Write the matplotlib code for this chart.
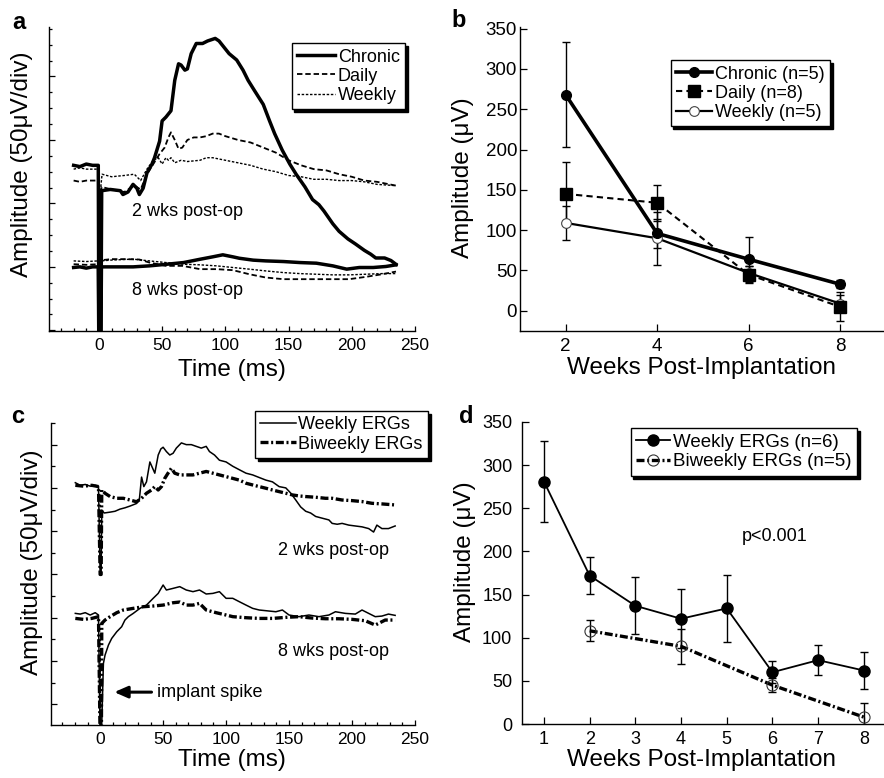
import matplotlib
matplotlib.use('Agg')
from matplotlib import pyplot as plt
from matplotlib.lines import Line2D
from matplotlib.ticker import MultipleLocator, NullFormatter

plt.rcParams['font.family'] = ['Liberation Sans', 'DejaVu Sans']

# ---- panel a: ERG traces, time in ms, amplitude in uV (8 wk baseline = 0) ----
a_chronic2_t = [-20, -15, -10, -5, -0.5, 0, 1.5, 2.2, 9, 17, 19, 23, 27, 30, 32, 35, 38, 42, 44, 48,
                50, 53, 57, 60, 63, 65, 68, 70, 73, 77, 82, 86, 92, 95, 99, 103, 109, 114, 118, 123,
                130, 135, 139, 145, 151, 156, 163, 169, 174, 178, 185, 190, 197, 203, 210, 215, 219,
                226, 231, 235]
a_chronic2_v = [80, 79, 81, 80, 80, -70, -70, 60, 61, 60, 57, 59, 65, 62, 57, 62, 74, 81, 86, 99,
                115, 118, 123, 147, 160, 159, 155, 156, 168, 176, 176, 178, 180, 178, 173, 168, 163, 155, 147, 139,
                128, 115, 105, 92, 81, 73, 63, 53, 49, 44, 34, 28, 22, 18, 13, 10, 7,
                7, 5, 2]
a_daily2_t = [-20, -15, -10, -5, -0.5, 0, 1.5, 2, 10, 20, 28, 33, 38, 43, 48, 52, 55, 57, 60, 63, 66,
              70, 75, 80, 85, 90, 95, 100, 110, 120, 130, 140, 150, 160, 170, 180, 190, 200, 210, 220,
              230, 235]
a_daily2_v = [68, 67, 68, 68, 68, -70, -70, 63, 61, 59, 64, 61, 73, 81, 89, 94, 102, 106, 100, 93, 94,
              100, 102, 102, 103, 105, 105, 103, 100, 98, 94, 90, 84, 80, 77, 76, 73, 71, 68, 67,
              65, 64]
a_weekly2_t = [-20, -15, -10, -5, -0.5, 0.5, 1.5, 2.5, 10, 20, 28, 33, 38, 43, 47, 50, 53, 55, 57, 60,
               65, 70, 80, 85, 90, 100, 110, 120, 130, 140, 150, 160, 170, 180, 190, 200, 210, 220, 235]
a_weekly2_v = [77, 78, 77, 77, 77, 52, 63, 73, 71, 72, 73, 68, 77, 84, 86, 81, 86, 84, 86, 82,
               84, 83, 84, 86, 86, 84, 82, 80, 77, 75, 72, 71, 69, 69, 68, 68, 67, 65, 64]
a_chronic8_t = [-20, -15, -10, -5, -0.5, 0, 1.5, 2, 14, 27, 40, 53, 67, 80, 90, 98, 106, 111, 122, 132,
                146, 159, 172, 185, 196, 206, 217, 227, 235]
a_chronic8_v = [-0.5, 0, -1, 0, 0, -70, -70, 0, 0, 0, 0.8, 2, 3.4, 6, 7.9, 9.5, 7.9, 6.8, 5.3, 4.7,
                4.2, 3.4, 2.9, 0.8, -1.8, -0.5, -0.5, 0.3, 1.6]
a_daily8_t = [-20, -10, -0.5, 0, 1.5, 2, 10, 20, 32, 40, 53, 66, 80, 93, 106, 119, 132, 146, 159, 172,
              185, 198, 211, 224, 235]
a_daily8_v = [2.1, 1.6, 2.1, -70, -70, 5.3, 6.1, 6.1, 5.8, 3.4, 0.8, 0.8, -1.8, -1.8, -2.6, -5.8, -8.4, -9.7, -9.7, -9.7,
              -9.7, -9.7, -7.9, -5.8, -3.7]
a_weekly8_t = [-20, -10, -0.5, 0, 1.5, 2, 9, 27, 40, 53, 67, 80, 93, 106, 119, 132, 146, 159, 172, 185,
               198, 211, 224, 235]
a_weekly8_v = [4.7, 4.2, 4.7, -70, -70, 4.7, 5.3, 6.1, 4.7, 3.4, 2.1, 1.6, 0.8, -0.5, -1.8, -3.2, -4.5, -5.3, -5.8, -6.3,
               -6.3, -5.8, -5.3, -5.3]

# ---- panel b: mean amplitude by group ----
b_weeks = [2, 4, 6, 8]
b_chronic = [268, 96, 64, 33]
b_chronic_err = [65, 18, 28, 5]
b_daily = [145, 134, 45, 5]
b_daily_err = [39, 22, 10, 18]
b_weekly = [109, 90, 47, 9]
b_weekly_err = [21, 33, 8, 10]

# ---- panel c: weekly vs biweekly ERG traces ----
c_weekly2_t = [-19.7, -15.8, -11.8, -7.9, -3.9, -1.3, 0, 0.8, 1.3, 3.2, 7.9, 11.8, 15.8, 19.7, 23.7, 26.3,
               28.9, 31.1, 32.9, 34.7, 36.8, 39.5, 41.6, 43.4, 46.1, 48.2, 50, 52.6, 55.3, 57.9, 60.5,
               64.5, 68.4, 72.4, 76.3, 80.3, 84.2, 86.8, 90.8, 94.7, 100, 105.3, 110.5, 115.8, 121.1,
               126.3, 131.6, 136.8, 142.1, 147.4, 151.3, 155.3, 159.2, 163.2, 167.1, 171.1, 176.3,
               181.6, 184.2, 188.2, 192.1, 197.4, 202.6, 207.9, 213.2, 217.1, 219.7, 223.7, 228.9, 234.2]
c_weekly2_v = [156, 153, 154, 152, 153, 152, 50, 50, 124.5, 121, 122, 123, 125.5, 127, 129, 130.5,
               132, 136, 162.5, 151.5, 157, 180, 173, 167, 188, 195, 197, 192, 188, 190, 196,
               202, 200, 200, 198, 196, 198, 192, 188, 182, 180, 175, 171, 167, 165,
               162, 159, 157, 151.5, 150, 144, 136, 128, 123, 121, 117, 115,
               113, 109, 108, 109, 107, 106, 105, 103, 99, 107, 103, 103, 106]
c_biweekly2_t = [-19.7, -13.2, -6.6, -1.3, 0, 0.8, 1.3, 3.9, 7.9, 13.2, 18.4, 23.7, 28.9, 32.9, 36.8, 40.8,
                 43.4, 46.1, 48.7, 51.3, 53.9, 56.6, 59.2, 63.2, 68.4, 73.7, 78.9, 84.2, 89.5, 94.7,
                 100, 105.3, 110.5, 115.8, 121.1, 126.3, 131.6, 136.8, 142.1, 147.4, 152.6, 157.9,
                 163.2, 171.1, 178.9, 184.2, 192.1, 200, 207.9, 215.8, 223.7, 234.2]
c_biweekly2_v = [153, 152, 153, 151.5, 50, 50, 147.6, 143.8, 140, 138, 138, 136, 134, 138, 143.8, 147.6,
                 151.5, 147.6, 151.5, 161, 167, 172.7, 167, 165, 165, 165, 167, 169, 167, 165,
                 163, 161, 159, 155.4, 153.4, 151.5, 149.6, 147.6, 145.7, 143.8, 141.9, 140.7,
                 140, 139.2, 138, 138, 136, 135.3, 134.2, 132.2, 131.5, 130.3]
c_weekly8_t = [-19.7, -15.8, -11.8, -7.9, -3.9, -1.3, 0, 0.8, 1.3, 2.6, 3.9, 6.6, 9.2, 13.2, 17.1, 19.7,
               22.4, 26.3, 31.6, 36.8, 42.1, 46.1, 50, 52.6, 57.9, 63.2, 68.4, 73.7, 78.9, 84.2,
               89.5, 94.7, 100, 105.3, 110.5, 115.8, 121.1, 126.3, 131.6, 139.5, 144.7, 150, 157.9,
               165.8, 173.7, 181.6, 186.8, 194.7, 202.6, 207.9, 213.2, 218.4, 223.7, 228.9, 234.2]
c_weekly8_v = [5, 4.2, 5.8, 3.1, 5.8, 3.1, -140, -140, -122, -52.8, -43.2, -31.6, -23.9, -16.2, -10.4, -2.7,
               1.2, 5, 10.8, 14.6, 22.4, 28.1, 37.8, 32, 33.9, 35.9, 32, 30.1, 32, 27.4,
               28.1, 30.1, 22.4, 22.4, 18.5, 14.6, 10.8, 8.9, 8.1, 6.9, 8.9, 3.1, 1.2,
               3.1, 1.2, 3.1, 6.9, 5, 4.2, 8.9, 5, 1.2, 1.9, 4.2, 2.7]
c_biweekly8_t = [-19.7, -13.2, -6.6, -1.3, 0, 1, 1.3, 3.9, 7.9, 13.2, 18.4, 26.3, 34.2, 42.1, 50, 57.9,
                 63.2, 68.4, 73.7, 78.9, 84.2, 92.1, 100, 105.3, 115.8, 126.3, 136.8, 147.4, 157.9,
                 168.4, 178.9, 189.5, 200, 210.5, 218.4, 226.3, 234.2]
c_biweekly8_v = [-0.8, -1.9, -0.8, 1.2, -140, -140, -6.6, -2.7, 1.2, 5.8, 8.9, 10.8, 12.7, 13.5, 14.6, 17.3,
                 18.1, 14.6, 14.6, 16.6, 8.9, 5.8, 3.1, 1.2, 0, -0.8, -0.8, 0.4, 1.2,
                 -0.4, -1.2, -1.2, -1.9, -3.5, -8.5, -2.7, -2.7]

# ---- panel d: weekly vs biweekly amplitude ----
d_weekly_x = [1, 2, 3, 4, 5, 6, 7, 8]
d_weekly = [281, 172, 137, 122, 134, 60, 74, 62]
d_weekly_err = [47, 21, 33, 34, 39, 13, 17, 21]
d_biweekly_x = [2, 4, 6, 8]
d_biweekly = [108, 90, 45, 8]
d_biweekly_err = [12, 20, 8, 16]

LABEL_FS = 17.5
LEG_FS = 13
DASHDOT = (0, (2.4, 0.8, 0.6, 0.8))


def base_axes(ax, tick_fs):
    for s in ['top', 'right']:
        ax.spines[s].set_visible(False)
    for s in ['left', 'bottom']:
        ax.spines[s].set_linewidth(1.0)
    ax.tick_params(which='both', direction='in', labelsize=tick_fs, width=0.9)


def boxed_legend(ax, handles, labels, anchor, fs=LEG_FS, **kw):
    leg = ax.legend(handles, labels, loc='upper right', bbox_to_anchor=anchor,
                    bbox_transform=ax.transAxes, borderaxespad=0, fancybox=False,
                    shadow={'color': 'black', 'alpha': 1}, framealpha=1, edgecolor='black',
                    fontsize=fs, handletextpad=0.15, labelspacing=0.12, borderpad=0.3,
                    numpoints=1, **kw)
    leg.get_frame().set_linewidth(1.0)
    return leg


def main():
    fig = plt.figure(figsize=(8.84, 7.78), dpi=100)

    # ---------------- a ----------------
    ax = fig.add_axes([0.0554, 0.5746, 0.414, 0.3907])
    base_axes(ax, 12.5)
    ax.plot(a_chronic2_t, a_chronic2_v, color='k', lw=2.5)
    ax.plot(a_daily2_t, a_daily2_v, color='k', lw=1.3, ls=(0, (3, 1.6)))
    ax.plot(a_weekly2_t, a_weekly2_v, color='k', lw=1.0, ls=(0, (1.8, 1.2)))
    ax.plot(a_chronic8_t, a_chronic8_v, color='k', lw=2.5)
    ax.plot(a_daily8_t, a_daily8_v, color='k', lw=1.3, ls=(0, (3, 1.6)))
    ax.plot(a_weekly8_t, a_weekly8_v, color='k', lw=1.0, ls=(0, (1.8, 1.2)))
    ax.set_xlim(-39.5, 250)
    ax.set_ylim(-50.5, 189)
    ax.xaxis.set_major_locator(MultipleLocator(50))
    ax.xaxis.set_minor_locator(MultipleLocator(10))
    ax.yaxis.set_major_locator(MultipleLocator(50))
    ax.yaxis.set_minor_locator(MultipleLocator(12.5))
    ax.yaxis.set_major_formatter(NullFormatter())
    ax.tick_params(axis='x', which='major', length=3.5, pad=5)
    ax.tick_params(axis='x', which='minor', length=2.5)
    ax.tick_params(axis='y', which='major', length=4)
    ax.tick_params(axis='y', which='minor', length=2.5)
    ax.text(26, 44, '2 wks post-op', fontsize=13, va='center', ha='left')
    ax.text(26, -19, '8 wks post-op', fontsize=13, va='center', ha='left')
    ax.set_xlabel('Time (ms)', fontsize=LABEL_FS, va='center')
    ax.xaxis.set_label_coords(0.5, -0.128)
    ax.set_ylabel('Amplitude (50μV/div)', fontsize=LABEL_FS, va='center')
    ax.yaxis.set_label_coords(-0.074, 0.55)
    h = [Line2D([], [], color='k', lw=2.5),
         Line2D([], [], color='k', lw=1.3, ls=(0, (3, 1.6))),
         Line2D([], [], color='k', lw=1.0, ls=(0, (1.8, 1.2)))]
    boxed_legend(ax, h, ['Chronic', 'Daily', 'Weekly'], (0.973, 0.947), handlelength=2.1)

    # ---------------- b ----------------
    ax = fig.add_axes([0.5882, 0.5746, 0.4106, 0.3907])
    base_axes(ax, 13.5)
    ekw = dict(fmt='none', ecolor='k', elinewidth=1.0, capsize=3.2, capthick=1.0)
    ax.errorbar(b_weeks, b_chronic, yerr=b_chronic_err, **ekw)
    ax.errorbar(b_weeks, b_daily, yerr=b_daily_err, **ekw)
    ax.errorbar(b_weeks, b_weekly, yerr=b_weekly_err, **ekw)
    ax.plot(b_weeks, b_weekly, color='k', lw=1.6, marker='o', ms=7, mfc='white', mec='#444', mew=0.8)
    ax.plot(b_weeks, b_daily, color='k', lw=1.5, ls=(0, (3, 2)), marker='s', ms=8)
    ax.plot(b_weeks, b_chronic, color='k', lw=2.6, marker='o', ms=7)
    ax.set_xlim(1, 8.94)
    ax.set_ylim(-25, 352)
    ax.set_xticks(b_weeks)
    ax.yaxis.set_major_locator(MultipleLocator(50))
    ax.tick_params(axis='x', length=5, pad=5)
    ax.tick_params(axis='y', length=5, pad=2)
    ax.set_xlabel('Weeks Post-Implantation', fontsize=LABEL_FS, va='center')
    ax.xaxis.set_label_coords(0.5, -0.122)
    ax.set_ylabel('Amplitude (μV)', fontsize=LABEL_FS, va='center')
    ax.yaxis.set_label_coords(-0.157, 0.503)
    h = [Line2D([], [], color='k', lw=2.6, marker='o', ms=7),
         Line2D([], [], color='k', lw=1.5, ls=(0, (3, 2)), marker='s', ms=8),
         Line2D([], [], color='k', lw=1.6, marker='o', ms=7, mfc='white', mec='#444', mew=0.8)]
    boxed_legend(ax, h, ['Chronic (n=5)', 'Daily (n=8)', 'Weekly (n=5)'], (0.854, 0.891),
                 handlelength=2.0)

    # ---------------- c ----------------
    ax = fig.add_axes([0.0577, 0.0681, 0.4118, 0.3882])
    base_axes(ax, 12.5)
    ax.plot(c_weekly2_t, c_weekly2_v, color='k', lw=1.1)
    ax.plot(c_biweekly2_t, c_biweekly2_v, color='k', lw=2.4, ls=DASHDOT)
    ax.plot(c_weekly8_t, c_weekly8_v, color='k', lw=1.1)
    ax.plot(c_biweekly8_t, c_biweekly8_v, color='k', lw=2.4, ls=DASHDOT)
    ax.set_xlim(-39, 250)
    ax.set_ylim(-124, 225)
    ax.xaxis.set_major_locator(MultipleLocator(50))
    ax.xaxis.set_minor_locator(MultipleLocator(10))
    ax.yaxis.set_major_locator(MultipleLocator(50))
    ax.yaxis.set_minor_locator(MultipleLocator(25))
    ax.yaxis.set_major_formatter(NullFormatter())
    ax.tick_params(axis='x', which='major', length=3.5, pad=5)
    ax.tick_params(axis='x', which='minor', length=2.5)
    ax.tick_params(axis='y', which='major', length=4)
    ax.tick_params(axis='y', which='minor', length=3)
    ax.text(141, 78, '2 wks post-op', fontsize=13, va='center', ha='left')
    ax.text(141, -39, '8 wks post-op', fontsize=13, va='center', ha='left')
    ax.annotate('', xy=(9, -86), xytext=(43, -86),
                arrowprops=dict(arrowstyle='-|>,head_length=0.8,head_width=0.35', color='k', lw=2.2))
    ax.text(45, -86, 'implant spike', fontsize=13, va='center', ha='left')
    ax.set_xlabel('Time (ms)', fontsize=LABEL_FS, va='center')
    ax.xaxis.set_label_coords(0.497, -0.116)
    ax.set_ylabel('Amplitude (50μV/div)', fontsize=LABEL_FS, va='center')
    ax.yaxis.set_label_coords(-0.052, 0.54)
    h = [Line2D([], [], color='k', lw=1.1),
         Line2D([], [], color='k', lw=2.4, ls=DASHDOT)]
    boxed_legend(ax, h, ['Weekly ERGs', 'Biweekly ERGs'], (1.036, 1.04), handlelength=1.95)

    # ---------------- d ----------------
    ax = fig.add_axes([0.5905, 0.0694, 0.4084, 0.3882])
    base_axes(ax, 13)
    ekw = dict(fmt='none', ecolor='k', elinewidth=1.0, capsize=3.0, capthick=1.0)
    ax.errorbar(d_weekly_x, d_weekly, yerr=d_weekly_err, **ekw)
    ax.errorbar(d_biweekly_x, d_biweekly, yerr=d_biweekly_err, **ekw)
    ax.plot(d_biweekly_x, d_biweekly, color='k', lw=2.4, ls=DASHDOT, marker='o', ms=8,
            mfc='none', mec='#333', mew=0.8)
    ax.plot(d_weekly_x, d_weekly, color='k', lw=1.3, marker='o', ms=8)
    ax.set_xlim(0.52, 8.42)
    ax.set_ylim(0, 350)
    ax.set_xticks(d_weekly_x)
    ax.yaxis.set_major_locator(MultipleLocator(50))
    ax.tick_params(axis='x', length=5, pad=5)
    ax.tick_params(axis='y', length=5, pad=7)
    ax.text(5.32, 217, 'p<0.001', fontsize=13, va='center', ha='left')
    ax.set_xlabel('Weeks Post-Implantation', fontsize=LABEL_FS, va='center')
    ax.xaxis.set_label_coords(0.498, -0.119)
    ax.set_ylabel('Amplitude (μV)', fontsize=LABEL_FS, va='center')
    ax.yaxis.set_label_coords(-0.158, 0.536)
    h = [Line2D([], [], color='k', lw=1.3, marker='o', ms=8),
         Line2D([], [], color='k', lw=2.4, ls=DASHDOT, marker='o', ms=8, mfc='none', mec='#333', mew=0.8)]
    boxed_legend(ax, h, ['Weekly ERGs (n=6)', 'Biweekly ERGs (n=5)'], (0.928, 0.98), fs=13.5,
                 handlelength=1.8)

    # panel letters
    for x, y, s in [(0.0215, 0.9717, 'a'), (0.519, 0.974, 'b'), (0.0204, 0.465, 'c'), (0.527, 0.465, 'd')]:
        fig.text(x, y, s, fontsize=17, fontweight='bold', ha='center', va='center')

    fig.savefig('out.png', dpi=100)


if __name__ == '__main__':
    main()
